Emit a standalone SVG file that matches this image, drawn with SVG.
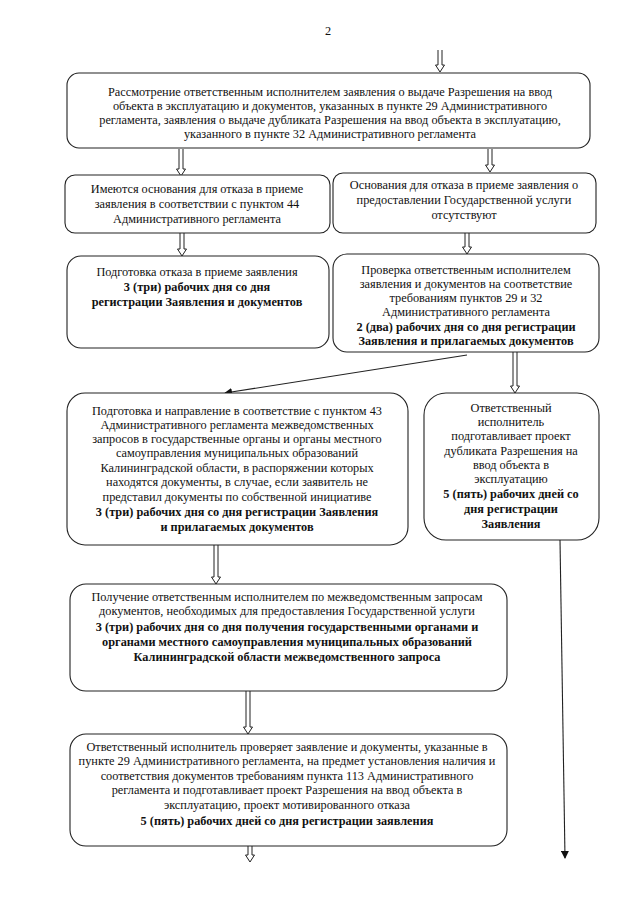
<svg xmlns="http://www.w3.org/2000/svg" width="640" height="905" viewBox="0 0 640 905">
<style>
.box{fill:#fff;stroke:#222;stroke-width:1.1}
.t{font-family:"Liberation Serif","Times New Roman",serif;font-size:12.3px;fill:#111;text-anchor:middle}
.b{font-weight:bold}
.ha{fill:#fff;stroke:#222;stroke-width:1}
.ln{stroke:#222;stroke-width:1.1;fill:none}
</style>
<defs>
<marker id="ah" markerWidth="8" markerHeight="8" refX="7" refY="4" orient="auto" markerUnits="userSpaceOnUse">
<path d="M0,0 L8,4 L0,8 Z" fill="#111"/>
</marker>
</defs>
<rect width="640" height="905" fill="#fff"/>
<text class="t" x="328" y="35" font-size="11">2</text>

<g id="connectors">
<path class="ha" d="M438,50 V65 H435.5 L440,72 L444.5,65 H442 V50"/>
<path class="ha" d="M179,149 V169 H176.5 L181,176 L185.5,169 H183 V149"/>
<path class="ha" d="M488,149 V165 H485.5 L490,172 L494.5,165 H492 V149"/>
<path class="ha" d="M180,233 V249 H177.5 L182,256 L186.5,249 H184 V233"/>
<path class="ha" d="M465,233 V247 H462.5 L467,254 L471.5,247 H469 V233"/>
<path class="ha" d="M513,352 V386 H510.5 L515,393 L519.5,386 H517 V352"/>
<path class="ha" d="M214,545 V577 H211.5 L216,584 L220.5,577 H218 V545"/>
<path class="ha" d="M246,691 V727 H243.5 L248,734 L252.5,727 H250 V691"/>
<path class="ha" d="M248,846 V855 H245.5 L250,862 L254.5,855 H252 V846"/>
<line class="ln" x1="467" y1="355" x2="225" y2="393" marker-end="url(#ah)"/>
<line class="ln" x1="560" y1="540" x2="565" y2="858" marker-end="url(#ah)"/>
</g>

<g id="n1">
<rect class="box" x="67" y="73" width="523" height="75" rx="12"/>
<text class="t" x="330" y="96">Рассмотрение ответственным исполнителем заявления о выдаче Разрешения на ввод</text>
<text class="t" x="330" y="110">объекта в эксплуатацию и документов, указанных в пункте 29 Административного</text>
<text class="t" x="330" y="124">регламента, заявления о выдаче дубликата Разрешения на ввод объекта в эксплуатацию,</text>
<text class="t" x="330" y="138">указанного в пункте 32 Административного регламента</text>
</g>

<g id="n2">
<rect class="box" x="65" y="175" width="265" height="58" rx="10"/>
<text class="t" x="197" y="193">Имеются основания для отказа в приеме</text>
<text class="t" x="197" y="208">заявления в соответствии с пунктом 44</text>
<text class="t" x="197" y="223">Административного регламента</text>
</g>

<g id="n3">
<rect class="box" x="333" y="173" width="263" height="60" rx="10"/>
<text class="t" x="464" y="189">Основания для отказа в приеме заявления о</text>
<text class="t" x="464" y="204">предоставлении Государственной услуги</text>
<text class="t" x="464" y="219">отсутствуют</text>
</g>

<g id="n4">
<rect class="box" x="67" y="256" width="262" height="92" rx="14"/>
<text class="t" x="197" y="276">Подготовка отказа в приеме заявления</text>
<text class="t b" x="197" y="291">3 (три) рабочих дня со дня</text>
<text class="t b" x="197" y="306">регистрации Заявления и документов</text>
</g>

<g id="n5">
<rect class="box" x="333" y="254" width="266" height="98" rx="14"/>
<text class="t" x="466" y="274">Проверка ответственным исполнителем</text>
<text class="t" x="466" y="288">заявления и документов на соответствие</text>
<text class="t" x="466" y="302">требованиям пунктов 29 и 32</text>
<text class="t" x="466" y="316">Административного регламента</text>
<text class="t b" x="466" y="331">2 (два) рабочих дня со дня регистрации</text>
<text class="t b" x="466" y="345">Заявления и прилагаемых документов</text>
</g>

<g id="n6">
<rect class="box" x="67" y="393" width="341" height="152" rx="18"/>
<text class="t" x="237" y="415">Подготовка и направление в соответствие с пунктом 43</text>
<text class="t" x="237" y="429">Административного регламента межведомственных</text>
<text class="t" x="237" y="443">запросов в государственные органы и органы местного</text>
<text class="t" x="237" y="457">самоуправления муниципальных образований</text>
<text class="t" x="237" y="472">Калининградской области, в распоряжении которых</text>
<text class="t" x="237" y="486">находятся документы, в случае, если заявитель не</text>
<text class="t" x="237" y="501">представил документы по собственной инициативе</text>
<text class="t b" x="237" y="516">3 (три) рабочих дня со дня регистрации Заявления</text>
<text class="t b" x="237" y="531">и прилагаемых документов</text>
</g>

<g id="n7">
<rect class="box" x="424" y="393" width="175" height="147" rx="22"/>
<text class="t" x="511" y="412">Ответственный</text>
<text class="t" x="511" y="426">исполнитель</text>
<text class="t" x="511" y="440">подготавливает проект</text>
<text class="t" x="511" y="455">дубликата Разрешения на</text>
<text class="t" x="511" y="469">ввод объекта в</text>
<text class="t" x="511" y="483">эксплуатацию</text>
<text class="t b" x="511" y="498">5 (пять) рабочих дней со</text>
<text class="t b" x="511" y="513">дня регистрации</text>
<text class="t b" x="511" y="528">Заявления</text>
</g>

<g id="n8">
<rect class="box" x="70" y="584" width="437" height="107" rx="16"/>
<text class="t" x="287" y="601">Получение ответственным исполнителем по межведомственным запросам</text>
<text class="t" x="287" y="615">документов, необходимых для предоставления Государственной услуги</text>
<text class="t b" x="287" y="631">3 (три) рабочих дня со дня получения государственными органами и</text>
<text class="t b" x="287" y="646">органами местного самоуправления муниципальных образований</text>
<text class="t b" x="287" y="661">Калининградской области межведомственного запроса</text>
</g>

<g id="n9">
<rect class="box" x="70" y="734" width="437" height="112" rx="16"/>
<text class="t" x="287" y="751">Ответственный исполнитель проверяет заявление и документы, указанные в</text>
<text class="t" x="287" y="765">пункте 29 Административного регламента, на предмет установления наличия и</text>
<text class="t" x="287" y="780">соответствия документов требованиям пункта 113 Административного</text>
<text class="t" x="287" y="794">регламента и подготавливает проект Разрешения на ввод объекта в</text>
<text class="t" x="287" y="809">эксплуатацию, проект мотивированного отказа</text>
<text class="t b" x="287" y="825">5 (пять) рабочих дней со дня регистрации заявления</text>
</g>
</svg>
